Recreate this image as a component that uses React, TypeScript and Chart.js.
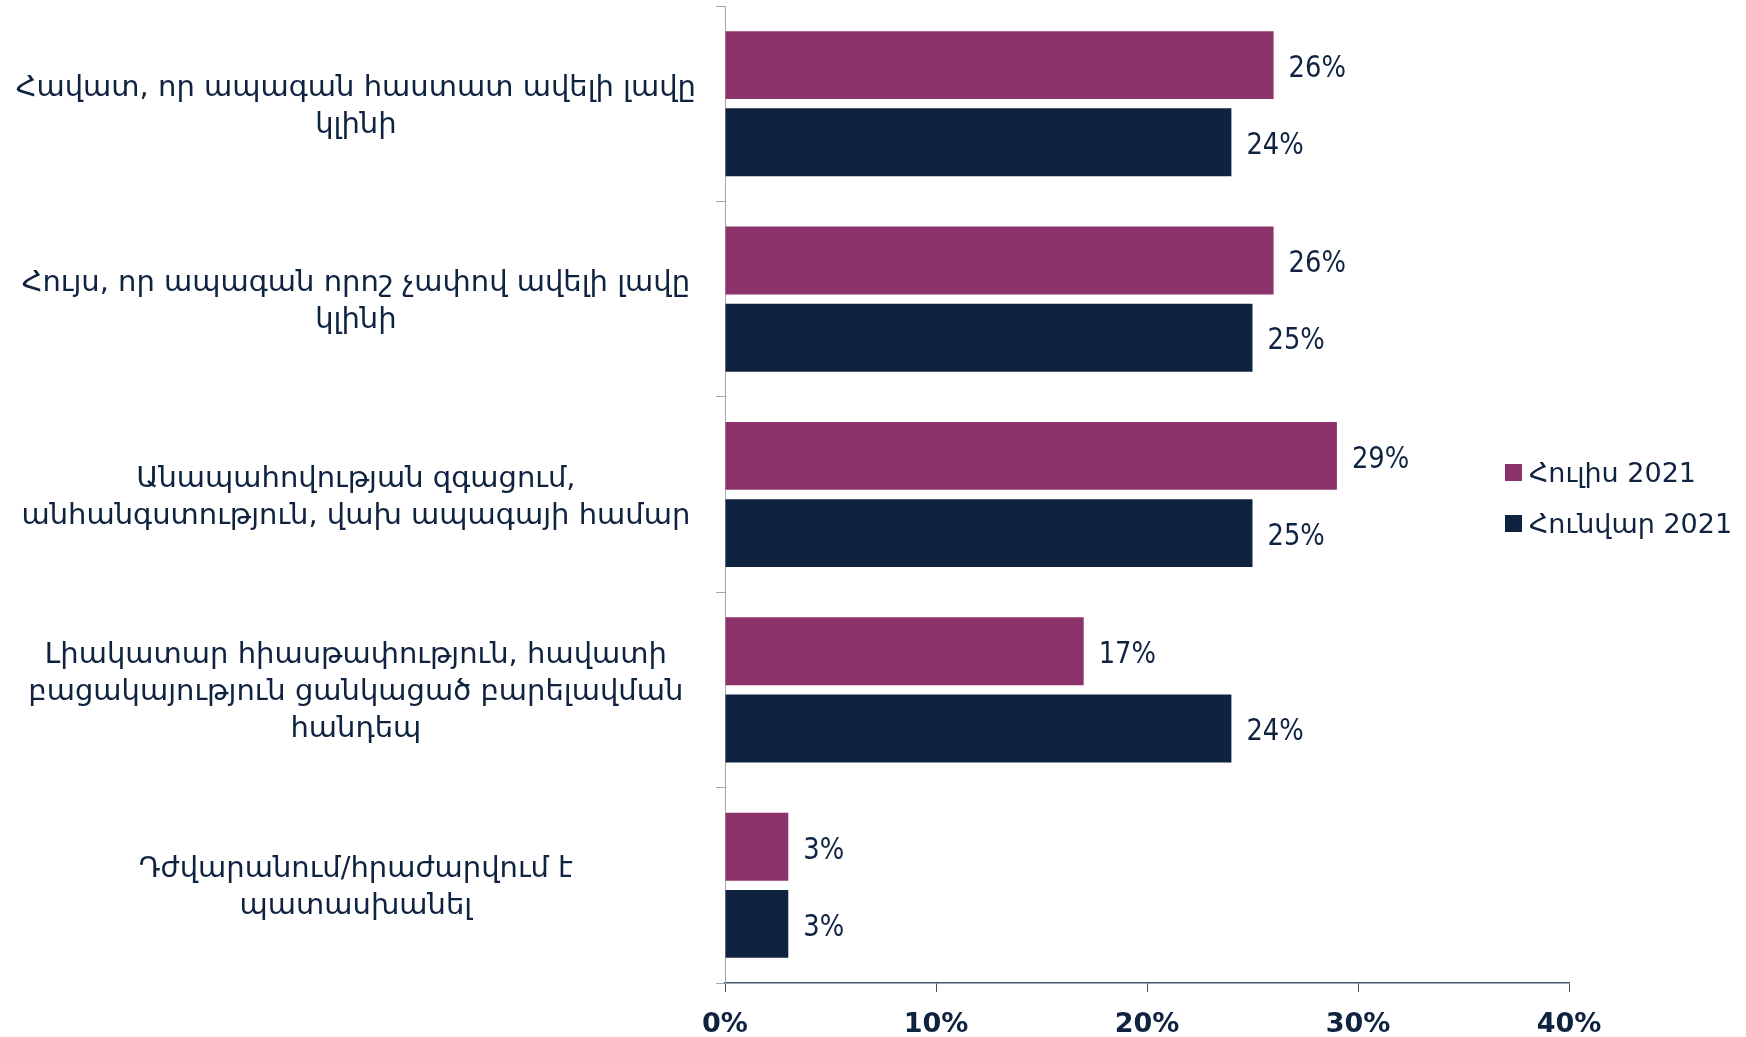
import React, { useEffect, useRef } from "react";
import { Chart, registerables } from "chart.js";

Chart.register(...registerables);

const categories: string[][] = [
  ["Հավատ, որ ապագան հաստատ ավելի լավը", "կլինի"],
  ["Հույս, որ ապագան որոշ չափով ավելի լավը", "կլինի"],
  ["Անապահովության զգացում,", "անհանգստություն, վախ ապագայի համար"],
  ["Լիակատար հիասթափություն, հավատի", "բացակայություն ցանկացած բարելավման", "հանդեպ"],
  ["Դժվարանում/հրաժարվում է", "պատասխանել"],
];

const seriesNames = ["Հուլիս 2021", "Հունվար 2021"];
const july2021 = [26, 26, 29, 17, 3];
const january2021 = [24, 25, 25, 24, 3];
const xTicks = [0, 10, 20, 30, 40];

const PURPLE = "#8C336C";
const NAVY = "#0F2341";
const FONT = "'DejaVu Sans', sans-serif";

const valueLabels = {
  id: "valueLabels",
  afterDatasetsDraw(chart: any) {
    const { ctx } = chart;
    chart.data.datasets.forEach((ds: any, i: number) => {
      const meta = chart.getDatasetMeta(i);
      meta.data.forEach((bar: any, j: number) => {
        ctx.save();
        ctx.translate(bar.x + 15, bar.y + 4);
        ctx.scale(0.86, 1);
        ctx.font = `30px ${FONT}`;
        ctx.fillStyle = NAVY;
        ctx.textAlign = "left";
        ctx.textBaseline = "middle";
        ctx.fillText(ds.data[j] + "%", 0, 0);
        ctx.restore();
      });
    });
  },
};

const sideLegend = {
  id: "sideLegend",
  afterDraw(chart: any) {
    const { ctx, chartArea } = chart;
    const x = chartArea.right - 64;
    const cy = (chartArea.top + chartArea.bottom) / 2;
    const ys = [cy - 22, cy + 29];
    chart.data.datasets.forEach((ds: any, i: number) => {
      ctx.save();
      ctx.fillStyle = ds.backgroundColor;
      ctx.fillRect(x, ys[i] - 8.5, 17, 17);
      ctx.font = `27px ${FONT}`;
      ctx.fillStyle = NAVY;
      ctx.textAlign = "left";
      ctx.textBaseline = "middle";
      ctx.fillText(ds.label, x + 24, ys[i] + 2);
      ctx.restore();
    });
  },
};

export default function App() {
  const ref = useRef<HTMLCanvasElement | null>(null);
  useEffect(() => {
    if (!ref.current) return;
    const chart = new Chart(ref.current, {
      type: "bar",
      data: {
        labels: categories,
        datasets: [
          { label: seriesNames[0], data: july2021, backgroundColor: PURPLE },
          { label: seriesNames[1], data: january2021, backgroundColor: NAVY },
        ],
      },
      options: {
        indexAxis: "y",
        animation: false,
        responsive: true,
        maintainAspectRatio: false,
        datasets: { bar: { categoryPercentage: 0.79, barPercentage: 0.88 } },
        layout: { padding: { top: 6, right: 177, left: 0, bottom: 0 } },
        plugins: { legend: { display: false }, tooltip: { enabled: false } },
        scales: {
          x: {
            min: 0,
            max: 40,
            afterBuildTicks: (s: any) => {
              s.ticks = xTicks.map((v) => ({ value: v }));
            },
            afterFit: (s: any) => {
              s.height = 54;
              s.paddingLeft = 0;
              s.paddingRight = 0;
            },
            grid: { drawOnChartArea: false, drawTicks: true, tickLength: 9, color: "#44546A" },
            border: { display: true, color: "#44546A", width: 1.5 },
            ticks: {
              padding: 17,
              color: NAVY,
              font: { family: FONT, size: 27, weight: "bold" },
              callback: (v: any) => v + "%",
            },
          },
          y: {
            afterFit: (s: any) => {
              s.width = 725;
              s.paddingTop = 0;
              s.paddingBottom = 0;
            },
            grid: { drawOnChartArea: false, drawTicks: true, tickLength: 9, color: "#A6A6A6", offset: true },
            border: { display: true, color: "#A6A6A6", width: 1 },
            ticks: {
              crossAlign: "center",
              padding: 20,
              labelOffset: 3,
              color: NAVY,
              font: { family: FONT, size: 29, lineHeight: 37 / 29 },
            },
          },
        },
      },
      plugins: [valueLabels, sideLegend],
    } as any);
    return () => chart.destroy();
  }, []);
  return (
    <div style={{ position: "fixed", left: 0, top: 0, width: 1746, height: 1037, background: "#fff" }}>
      <canvas ref={ref} />
    </div>
  );
}
